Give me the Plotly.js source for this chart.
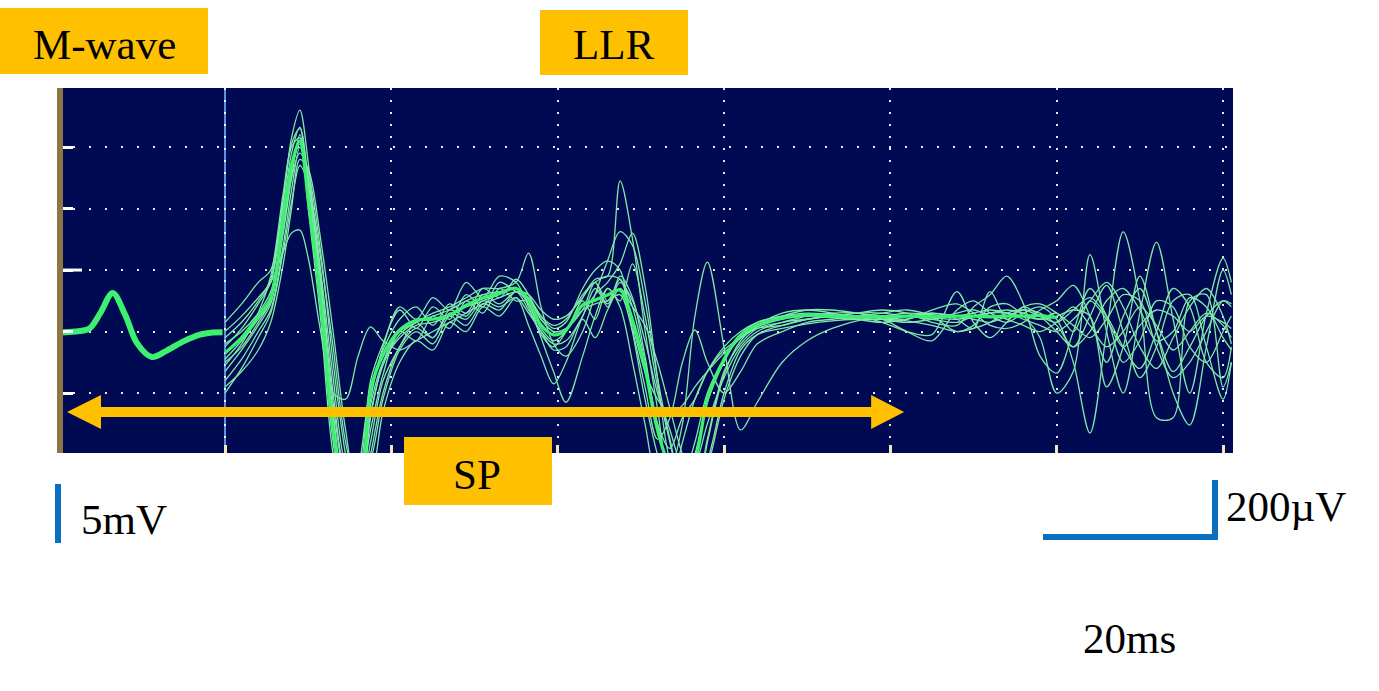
<!DOCTYPE html>
<html>
<head>
<meta charset="utf-8">
<script src="https://cdn.plot.ly/plotly-3.0.1.min.js"></script>
<style>
html,body{margin:0;padding:0;background:#ffffff;}
#chart{width:1379px;height:691px;}
</style>
</head>
<body>
<div id="chart"></div>
<script>
// ---------- DATA (time in ms after stimulus, amplitude in µV) ----------
const timeMs = [
  0, 2, 4, 5.5, 7, 8, 9, 10, 11.5, 13,
  14.5, 16, 17.5, 19, 21, 23, 25, 27, 29, 31,
  33, 35, 36.5, 38, 39.5, 41, 43, 44.5, 46, 47.5,
  49, 50.5, 52, 53.5, 55, 56.5, 58, 60, 62, 64,
  67, 70, 73, 76, 79, 82, 85, 88, 90, 92,
  94, 96, 98, 100, 102, 104, 106, 108, 110, 112,
  114, 116, 118, 120, 121
];

// M-wave (displayed on the 5 mV sweep, before the stimulus marker)
const mwaveTimeMs = [-19.8, -18, -16.3, -15, -13.5, -12, -10.6, -8.8, -7, -5, -3, -1.5, -0.3];
const mwaveUv     = [-203, -200, -190, -140, -75, -146, -237, -283, -262, -232, -210, -203, -202];

// individual superimposed sweeps
const sweep01 = [
  -170, -110, -40, 0, 230, 430, 520, 350, -60, -480,
  -740, -700, -420, -250, -120, -160, -90, -130, -40, -90,
  -20, -40, -120, -210, -250, -200, -90, -30, -20, 290,
  100, -195, -450, -680, -720, -600, -430, -300, -210, -170,
  -150, -140, -145, -150, -140, -130, -150, -200, -180, -120,
  -110, -150, -220, -400, -330, 50, -200, -400, -140, 91,
  -160, -400, -140, 39, -40
];
const sweep02 = [
  -250, -190, -110, -40, 200, 380, 465, 300, -40, -430,
  -700, -800, -480, -300, -200, -170, -140, -120, -90, -60,
  -60, -40, 55, -120, -240, -280, -200, -80, 30, 125,
  80, -100, -350, -550, -700, -720, -550, -330, -240, -190,
  -170, -150, -140, -140, -160, -170, -160, -140, -130, -150,
  -170, -140, -120, -160, -300, -530, -200, 124, -100, -480,
  -480, -100, -80, -380, -300
];
const sweep03 = [
  -330, -260, -180, -110, 120, 300, 440, 300, -20, -400,
  -680, -760, -560, -360, -250, -170, -220, -130, -150, -80,
  -110, -70, -110, -220, -330, -430, -280, -150, -60, -120,
  -300, -500, -680, -700, -560, -420, -330, -260, -220, -190,
  -180, -160, -150, -140, -140, -150, -160, -170, -150, -140,
  -130, -140, -160, -150, -130, -150, -380, -250, -20, -200,
  -400, -504, -250, 0, -80
];
const sweep04 = [
  -300, -250, -170, -100, 150, 320, 420, 280, -80, -500,
  -760, -740, -440, -300, -220, -180, -170, -150, -120, -100,
  -80, -60, -90, -150, -180, -160, -80, -40, -20, -30,
  -120, -300, -500, -650, -500, -150, 26, -250, -520, -430,
  -300, -230, -190, -165, -150, -150, -155, -160, -150, -140,
  -140, -150, -160, -140, -200, -100, -160, -250, -180, -130,
  -150, -200, -150, -170, -190
];
const sweep05 = [
  -360, -290, -200, -130, 80, 260, 400, 300, 0, -350,
  -640, -720, -520, -340, -200, -230, -150, -190, -100, -140,
  -60, -100, -100, -160, -200, -190, -130, -110, -100, -80,
  -200, -380, -550, -480, -300, -195, -300, -400, -330, -240,
  -200, -170, -160, -150, -160, -200, -230, -130, -100, -140,
  -160, -180, -200, -170, -120, -180, -250, -200, -120, -180,
  -260, -200, -140, -180, -220
];
const sweep06 = [
  -240, -200, -140, -70, 130, 300, 380, 320, 60, -300,
  -600, -780, -600, -400, -250, -190, -220, -140, -160, -100,
  -120, -90, -180, -280, -370, -300, -150, -80, -40, 20,
  120, -50, -350, -620, -700, -640, -500, -350, -250, -200,
  -170, -160, -150, -150, -170, -200, -210, -70, -170, -220,
  -170, -120, -150, -200, -250, -150, -50, -200, -350, -250,
  -100, -80, -250, -420, -300
];
const sweep07 = [
  -400, -320, -220, -140, 60, 220, 340, 280, 40, -250,
  -560, -700, -620, -420, -260, -200, -240, -150, -180, -110,
  -130, -70, -130, -200, -240, -230, -150, -60, -110, -40,
  -100, -230, -400, -520, -650, -720, -640, -420, -280, -210,
  -180, -160, -150, -140, -130, -140, -170, -180, -120, -80,
  -20, -110, -280, -335, -200, -60, -150, -300, -230, -100,
  -120, -250, -300, -200, -150
];
const sweep08 = [
  -200, -150, -90, -40, 60, 120, 130, 40, -200, -400,
  -420, -280, -185, -230, -260, -230, -200, -170, -140, -110,
  -90, -70, -80, -130, -160, -150, -90, -40, -100, -30,
  -180, -330, -420, -470, -440, -380, -330, -270, -220, -185,
  -160, -150, -150, -160, -160, -150, -140, -150, -160, -170,
  -150, -130, -140, -180, -250, -200, -100, -60, -130, -230,
  -200, -90, -120, -220, -260
];
const sweep09 = [
  -220, -170, -100, -30, 230, 410, 460, 260, -120, -560,
  -780, -700, -360, -240, -130, -190, -120, -160, -80, -120,
  -40, -70, -90, -150, -190, -170, -60, 0, 30, 0,
  -200, -420, -600, -720, -680, -560, -400, -290, -220, -180,
  -150, -130, -130, -140, -150, -160, -130, -110, -140, -180,
  -190, -170, -130, -100, -50, -150, -300, -150, -60, -200,
  -330, -250, -150, -100, -120
];
const sweep10 = [
  -290, -230, -160, -100, 160, 330, 410, 250, -70, -460,
  -720, -760, -470, -310, -210, -170, -150, -130, -100, -80,
  -70, -60, -110, -190, -230, -200, -100, -160, -60, -100,
  20, -150, -380, -560, -720, -750, -560, -340, -230, -180,
  -140, -130, -140, -160, -170, -160, -140, -160, -190, -70,
  -160, -120, -110, -140, -180, -220, -160, -80, -100, -250,
  -350, -300, -200, -100, -110
];
const sweep11 = [
  -310, -240, -140, -20, 250, 400, 430, 200, -160, -600,
  -760, -650, -380, -260, -160, -120, -180, -110, -140, -60,
  -90, -30, -80, -160, -200, -190, -130, -40, -120, -20,
  -90, -280, -500, -580, -480, -420, -330, -250, -200, -170,
  -150, -145, -155, -160, -150, -140, -145, -150, -140, -130,
  -140, -160, -180, -200, -160, -100, -40, -120, -250, -320,
  -220, -120, -60, -150, -240
];
const sweep12 = [
  -380, -330, -260, -170, 20, 200, 360, 330, 100, -200,
  -520, -720, -680, -460, -300, -230, -260, -170, -200, -120,
  -150, -90, -140, -200, -260, -250, -160, -220, -130, -60,
  -120, -180, -300, -450, -600, -700, -620, -400, -260, -210,
  -190, -175, -165, -160, -160, -165, -180, -200, -190, -170,
  -140, -130, -150, -170, -130, -90, -150, -250, -320, -200,
  -60, -120, -300, -350, -250
];
// dense overlap of the sweeps (bright core of the bundle)
const sweepCore = [
  -270, -220, -150, -90, 170, 340, 420, 230, -98, -520,
  -720, -760, -390, -276, -195, -163, -160, -146, -114, -91,
  -75, -59, -98, -179, -211, -195, -114, -98, -81, -65,
  -163, -320, -520, -640, -680, -620, -420, -290, -211, -179,
  -156, -146, -150, -152, -152, -150, -152, -150, -150, -152,
  -150, -150, -148, -155, null, null, null, null, null, null,
  null, null, null, null, null
];
const sweeps = [sweep01, sweep02, sweep03, sweep04, sweep05, sweep06,
                sweep07, sweep08, sweep09, sweep10, sweep11, sweep12];

const labelMwave = 'M-wave', labelLLR = 'LLR', labelSP = 'SP';
const scaleLeft = '5mV', scaleAmp = '200µV', scaleTime = '20ms';

// ---------- GEOMETRY HELPERS (for decorations only) ----------
const FRAME = {l: 57, r: 1233, t: 88, b: 453};
const X0PX = 225, PX_PER_MS = 8.315, Y0PX = 270, UV_PER_PX = 3.252;
const pxX = p => (p - FRAME.l) / (FRAME.r - FRAME.l);
const pxY = p => (FRAME.b - p) / (FRAME.b - FRAME.t);
const msAt = p => (p - X0PX) / PX_PER_MS;
const uvAt = p => (Y0PX - p) * UV_PER_PX;

const ORANGE = '#FFC000', BLUE = '#0B6FC0';
const SERIF = 'Liberation Serif, Times New Roman, serif';

// ---------- TRACES ----------
const traces = [];
sweeps.forEach(s => traces.push({
  x: timeMs, y: s, type: 'scatter', mode: 'lines',
  line: {color: '#80E8A8', width: 1.3, shape: 'spline', smoothing: 0.9},
  hoverinfo: 'skip'
}));
traces.push({
  x: timeMs, y: sweepCore, type: 'scatter', mode: 'lines', connectgaps: false,
  line: {color: '#3CF070', width: 3.2, shape: 'spline', smoothing: 0.9},
  hoverinfo: 'skip'
});
traces.push({
  x: mwaveTimeMs, y: mwaveUv, type: 'scatter', mode: 'lines',
  line: {color: '#3CF070', width: 6, shape: 'spline', smoothing: 0.9},
  hoverinfo: 'skip'
});

// ---------- SHAPES ----------
const shapes = [
  {type: 'line', xref: 'x', yref: 'paper', x0: 0, x1: 0, y0: 0, y1: 1,
   line: {color: '#5C8FE6', width: 2}, layer: 'below'},
  {type: 'rect', xref: 'paper', yref: 'paper', x0: 0, x1: pxX(63), y0: 0, y1: 1,
   fillcolor: '#8C7645', line: {width: 0}, layer: 'above'},
  {type: 'line', xref: 'paper', yref: 'y', x0: pxX(63), x1: pxX(82), y0: 0, y1: 0,
   line: {color: '#FFFFFF', width: 3}, layer: 'above'},
  {type: 'rect', xref: 'x', yref: 'y', x0: msAt(100), x1: msAt(872), y0: uvAt(417), y1: uvAt(407),
   fillcolor: ORANGE, line: {width: 0}, layer: 'above'},
  {type: 'path', xref: 'x', yref: 'y', layer: 'above', fillcolor: ORANGE, line: {width: 0},
   path: `M ${msAt(67)},${uvAt(412)} L ${msAt(101)},${uvAt(395)} L ${msAt(101)},${uvAt(429)} Z`},
  {type: 'path', xref: 'x', yref: 'y', layer: 'above', fillcolor: ORANGE, line: {width: 0},
   path: `M ${msAt(904)},${uvAt(412)} L ${msAt(871)},${uvAt(395)} L ${msAt(871)},${uvAt(429)} Z`},
  {type: 'rect', xref: 'paper', yref: 'paper', x0: pxX(0), x1: pxX(208), y0: pxY(74), y1: pxY(8),
   fillcolor: ORANGE, line: {width: 0}, layer: 'above'},
  {type: 'rect', xref: 'paper', yref: 'paper', x0: pxX(540), x1: pxX(688), y0: pxY(75), y1: pxY(10),
   fillcolor: ORANGE, line: {width: 0}, layer: 'above'},
  {type: 'rect', xref: 'paper', yref: 'paper', x0: pxX(404), x1: pxX(552), y0: pxY(505), y1: pxY(437),
   fillcolor: ORANGE, line: {width: 0}, layer: 'above'},
  {type: 'rect', xref: 'paper', yref: 'paper', x0: pxX(55), x1: pxX(61), y0: pxY(543), y1: pxY(484),
   fillcolor: BLUE, line: {width: 0}, layer: 'above'},
  {type: 'rect', xref: 'paper', yref: 'paper', x0: pxX(1043), x1: pxX(1218), y0: pxY(540), y1: pxY(534),
   fillcolor: BLUE, line: {width: 0}, layer: 'above'},
  {type: 'rect', xref: 'paper', yref: 'paper', x0: pxX(1212), x1: pxX(1218), y0: pxY(540), y1: pxY(480),
   fillcolor: BLUE, line: {width: 0}, layer: 'above'}
];

// ---------- ANNOTATIONS ----------
const txt = (t, x, y, xa) => ({
  text: t, xref: 'paper', yref: 'paper', x: pxX(x), y: pxY(y), showarrow: false,
  xanchor: xa, yanchor: 'middle', font: {family: SERIF, size: 43, color: '#000000'}
});
const annotations = [
  txt(labelMwave, 104, 44, 'center'),
  txt(labelLLR, 614, 45, 'center'),
  txt(labelSP, 477, 474, 'center'),
  txt(scaleLeft, 79, 519, 'left'),
  txt(scaleAmp, 1224, 506, 'left'),
  txt(scaleTime, 1081, 638, 'left')
];

// ---------- LAYOUT ----------
const layout = {
  width: 1379, height: 691,
  margin: {l: FRAME.l, r: 1379 - FRAME.r, t: FRAME.t, b: 691 - FRAME.b, pad: 0},
  paper_bgcolor: '#FFFFFF', plot_bgcolor: '#000A52',
  showlegend: false, hovermode: false,
  xaxis: {
    range: [-20.2, 121.2], tickvals: [0, 20, 40, 60, 80, 100, 120],
    showticklabels: false, ticks: 'inside', ticklen: 8, tickwidth: 3, tickcolor: '#F2E8B6',
    showgrid: true, gridcolor: 'rgba(255,255,255,0.9)', gridwidth: 2, griddash: '2px,10px',
    zeroline: false, showline: false, fixedrange: true
  },
  yaxis: {
    range: [-595, 592], tickvals: [-400, -200, 0, 200, 400],
    showticklabels: false, ticks: 'inside', ticklen: 16, tickwidth: 3, tickcolor: '#FFFFFF',
    showgrid: true, gridcolor: 'rgba(255,255,255,0.9)', gridwidth: 2, griddash: '2px,14px',
    zeroline: false, showline: false, fixedrange: true
  },
  shapes: shapes,
  annotations: annotations
};

Plotly.newPlot('chart', traces, layout, {displayModeBar: false, staticPlot: true});
</script>
</body>
</html>
